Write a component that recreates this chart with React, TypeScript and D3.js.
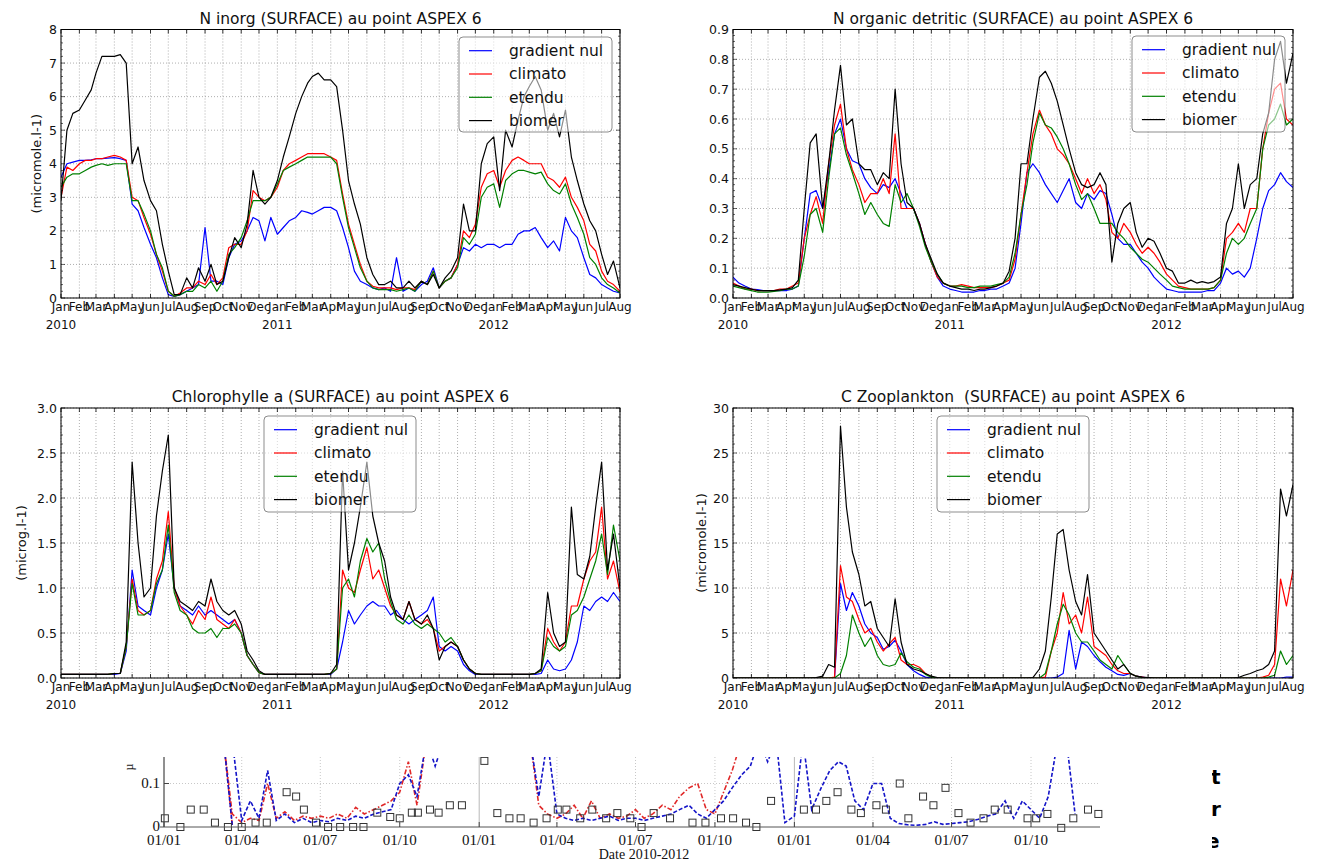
import React from 'react';
import * as d3 from 'd3';

const LEGEND_NAMES = ['gradient nul', 'climato', 'etendu', 'biomer'];
const LINE_COLORS = ['#0000ff', '#ff0000', '#008000', '#000000'];

// model output read on the 1st, 11th and 21st of each month, Jan 2010 .. 1 Aug 2012
const dekadDates = (year: number, month: number, count: number) =>
  d3.range(count).map(i => new Date(year, month + Math.floor(i / 3), 1 + 10 * (i % 3)));
const DATES = dekadDates(2010, 0, 94);

// ---- N inorg ----
const ninorgGradient = [
  3.6, 4.0, 4.05, 4.1, 4.1, 4.12, 4.15, 4.15, 4.17, 4.18, 4.15, 4.1, 2.8, 2.6, 2.1, 1.6, 1.2, 0.6, 0.1, 0.05, 0.1, 0.2, 0.3, 0.4, 2.1, 0.5, 0.5, 0.4, 1.2, 1.6, 1.7, 2.0, 2.4, 2.3, 1.7, 2.4,
  1.9, 2.1, 2.3, 2.4, 2.6, 2.55, 2.5, 2.6, 2.7, 2.7, 2.6, 2.1, 1.5, 0.8, 0.5, 0.4, 0.3, 0.25, 0.3, 0.2, 1.2, 0.2, 0.3, 0.2, 0.4, 0.5, 0.9, 0.3, 0.5, 0.6, 1.0, 1.5, 1.4, 1.6, 1.5, 1.6,
  1.6, 1.5, 1.6, 1.6, 1.9, 2.0, 2.0, 2.1, 1.8, 1.5, 1.7, 1.4, 2.4, 2.0, 1.8, 1.2, 0.7, 0.6, 0.4, 0.3, 0.2, 0.15,
];
const ninorgClimato = [
  3.0, 3.9, 3.8, 4.0, 4.1, 4.1, 4.15, 4.15, 4.2, 4.25, 4.2, 4.1, 3.0, 2.9, 2.4, 1.9, 1.3, 0.8, 0.2, 0.05, 0.15, 0.3, 0.3, 0.5, 0.4, 0.7, 0.4, 0.6, 1.5, 1.6, 1.6, 2.0, 3.2, 3.0, 2.9, 3.0,
  3.3, 3.8, 4.0, 4.1, 4.2, 4.3, 4.3, 4.3, 4.3, 4.2, 4.1, 3.1, 2.2, 1.6, 1.0, 0.5, 0.35, 0.3, 0.3, 0.3, 0.25, 0.3, 0.3, 0.25, 0.5, 0.4, 0.8, 0.3, 0.5, 0.6, 1.0, 2.0, 1.8, 2.2, 3.3, 3.7,
  3.8, 3.3, 3.8, 4.1, 4.2, 4.1, 4.0, 4.0, 4.0, 3.6, 3.5, 3.3, 3.6, 3.0, 2.7, 2.3, 1.6, 1.4, 0.8, 0.5, 0.4, 0.2,
];
const ninorgEtendu = [
  3.3, 3.6, 3.7, 3.7, 3.8, 3.9, 3.95, 4.0, 3.95, 4.0, 4.0, 4.0, 2.9, 2.9, 2.5, 2.0, 1.3, 0.9, 0.2, 0.05, 0.1, 0.2, 0.2, 0.4, 0.3, 0.5, 0.2, 0.5, 1.3, 1.5, 1.8, 2.3, 2.9, 2.9, 2.9, 3.0,
  3.4, 3.8, 3.9, 4.0, 4.1, 4.2, 4.2, 4.2, 4.2, 4.2, 4.0, 3.0, 2.1, 1.5, 0.9, 0.5, 0.3, 0.25, 0.25, 0.25, 0.2, 0.25, 0.3, 0.2, 0.5, 0.4, 0.8, 0.3, 0.5, 0.6, 0.9, 1.8, 1.6, 1.9, 3.0, 3.3,
  3.4, 2.7, 3.5, 3.7, 3.8, 3.8, 3.75, 3.7, 3.75, 3.4, 3.2, 3.1, 3.4, 2.8, 2.4, 1.9, 1.2, 1.0, 0.6, 0.4, 0.3, 0.15,
];
const ninorgBiomer = [
  2.9, 5.0, 5.5, 5.6, 5.9, 6.2, 6.7, 7.2, 7.2, 7.2, 7.25, 7.0, 4.0, 4.5, 3.5, 2.9, 2.6, 1.6, 0.8, 0.1, 0.1, 0.6, 0.3, 0.9, 0.5, 1.0, 0.4, 0.5, 1.2, 1.8, 1.5, 2.2, 3.8, 3.0, 2.8, 3.0,
  3.5, 4.2, 4.8, 5.5, 6.0, 6.4, 6.6, 6.7, 6.5, 6.5, 6.3, 5.0, 3.5, 2.8, 2.2, 1.2, 0.7, 0.4, 0.4, 0.5, 0.3, 0.3, 0.5, 0.3, 0.5, 0.4, 0.7, 0.3, 0.6, 0.8, 1.2, 2.8, 2.0, 2.0, 4.0, 4.6,
  4.8, 3.2, 5.0, 4.5, 5.3, 6.0, 6.3, 6.6, 6.2, 5.0, 5.5, 4.8, 5.6, 4.2, 3.5, 2.8, 2.3, 2.0, 1.3, 0.7, 1.1, 0.3,
];

// ---- N organic detritic ----
const norgGradient = [
  0.07, 0.05, 0.04, 0.03, 0.028, 0.025, 0.025, 0.025, 0.025, 0.025, 0.03, 0.04, 0.2, 0.35, 0.36, 0.3, 0.42, 0.55, 0.6, 0.5, 0.46, 0.45, 0.4, 0.37, 0.35, 0.38, 0.37, 0.4, 0.35, 0.3, 0.3, 0.25, 0.18, 0.12, 0.07, 0.04,
  0.03, 0.025, 0.02, 0.02, 0.02, 0.025, 0.025, 0.03, 0.03, 0.04, 0.05, 0.1, 0.25, 0.42, 0.45, 0.42, 0.38, 0.35, 0.32, 0.36, 0.4, 0.32, 0.3, 0.35, 0.33, 0.36, 0.35, 0.28, 0.2, 0.18, 0.18, 0.15, 0.12, 0.1, 0.07, 0.05,
  0.03, 0.025, 0.02, 0.02, 0.02, 0.02, 0.02, 0.025, 0.025, 0.05, 0.1, 0.08, 0.09, 0.07, 0.1, 0.2, 0.3, 0.36, 0.38, 0.42, 0.39, 0.37,
];
const norgClimato = [
  0.05, 0.04, 0.03, 0.03, 0.025, 0.025, 0.025, 0.025, 0.03, 0.03, 0.04, 0.05, 0.2, 0.28, 0.34, 0.25, 0.45, 0.58, 0.65, 0.5, 0.43, 0.38, 0.32, 0.35, 0.35, 0.4, 0.35, 0.55, 0.3, 0.3, 0.3, 0.25, 0.18, 0.12, 0.07, 0.05,
  0.04, 0.04, 0.045, 0.04, 0.035, 0.035, 0.035, 0.035, 0.04, 0.05, 0.06, 0.13, 0.28, 0.42, 0.55, 0.63, 0.58, 0.55, 0.5, 0.48, 0.45, 0.4, 0.35, 0.4, 0.35, 0.38, 0.33, 0.22, 0.2, 0.25, 0.22, 0.18, 0.15, 0.17, 0.15, 0.12,
  0.08, 0.06, 0.04, 0.035, 0.03, 0.03, 0.03, 0.03, 0.035, 0.06, 0.2, 0.22, 0.25, 0.22, 0.3, 0.3, 0.5, 0.62, 0.7, 0.72, 0.6, 0.58,
];
const norgEtendu = [
  0.04, 0.035, 0.03, 0.025, 0.02, 0.02, 0.02, 0.022, 0.025, 0.03, 0.03, 0.04, 0.14, 0.28, 0.3, 0.22, 0.4, 0.55, 0.57, 0.48, 0.42, 0.35, 0.28, 0.32, 0.28, 0.25, 0.24, 0.38, 0.32, 0.35, 0.3, 0.24, 0.17, 0.12, 0.08, 0.05,
  0.04, 0.04, 0.04, 0.035, 0.035, 0.04, 0.04, 0.04, 0.045, 0.05, 0.07, 0.15, 0.28, 0.38, 0.52, 0.62, 0.58, 0.57, 0.54, 0.5, 0.45, 0.38, 0.33, 0.35, 0.3, 0.25, 0.25, 0.25, 0.22, 0.2, 0.17, 0.15, 0.13, 0.12, 0.1, 0.08,
  0.06, 0.04, 0.035, 0.03, 0.03, 0.03, 0.03, 0.03, 0.035, 0.06, 0.15, 0.2, 0.18, 0.2, 0.25, 0.3, 0.5, 0.58, 0.6, 0.65, 0.58, 0.6,
];
const norgBiomer = [
  0.045, 0.04, 0.035, 0.03, 0.025, 0.025, 0.025, 0.025, 0.027, 0.03, 0.035, 0.06, 0.3, 0.52, 0.55, 0.3, 0.45, 0.63, 0.78, 0.58, 0.6, 0.45, 0.43, 0.43, 0.38, 0.42, 0.4, 0.7, 0.45, 0.32, 0.3, 0.25, 0.18, 0.13, 0.08, 0.05,
  0.04, 0.035, 0.03, 0.03, 0.025, 0.03, 0.03, 0.035, 0.04, 0.05, 0.09, 0.2, 0.45, 0.45, 0.6, 0.74, 0.76, 0.72, 0.66, 0.58, 0.5, 0.42, 0.38, 0.37, 0.38, 0.42, 0.38, 0.12, 0.25, 0.3, 0.32, 0.22, 0.17, 0.2, 0.19, 0.15,
  0.1, 0.09, 0.05, 0.05, 0.06, 0.05, 0.055, 0.05, 0.055, 0.07, 0.25, 0.3, 0.45, 0.3, 0.38, 0.4, 0.55, 0.62, 0.8, 0.86, 0.72, 0.82,
];

// ---- Chlorophylle a ----
const chlGradient = [
  0.04, 0.04, 0.04, 0.04, 0.04, 0.04, 0.04, 0.04, 0.04, 0.04, 0.05, 0.3, 1.2, 0.8, 0.75, 0.7, 1.0, 1.2, 1.6, 1.0, 0.8, 0.75, 0.7, 0.8, 0.7, 0.75, 0.7, 0.65, 0.6, 0.65, 0.5, 0.25, 0.15, 0.06, 0.04, 0.04,
  0.04, 0.04, 0.04, 0.04, 0.04, 0.04, 0.04, 0.04, 0.04, 0.04, 0.1, 0.4, 0.75, 0.6, 0.7, 0.8, 0.85, 0.8, 0.8, 0.7, 0.75, 0.65, 0.6, 0.65, 0.7, 0.75, 0.9, 0.35, 0.3, 0.35, 0.3, 0.15, 0.08, 0.04, 0.04, 0.04,
  0.04, 0.04, 0.04, 0.04, 0.04, 0.04, 0.04, 0.04, 0.05, 0.2, 0.1, 0.08, 0.1, 0.2, 0.4, 0.8, 0.75, 0.85, 0.9, 0.85, 0.95, 0.85,
];
const chlClimato = [
  0.04, 0.04, 0.04, 0.04, 0.04, 0.04, 0.04, 0.04, 0.04, 0.05, 0.05, 0.35, 1.1, 0.75, 0.7, 0.75, 1.1, 1.3, 1.85, 1.0, 0.8, 0.7, 0.6, 0.75, 0.65, 0.9, 0.65, 0.6, 0.55, 0.65, 0.5, 0.25, 0.15, 0.06, 0.04, 0.04,
  0.04, 0.04, 0.04, 0.04, 0.04, 0.04, 0.04, 0.04, 0.04, 0.05, 0.1, 1.2, 1.0, 0.95, 1.2, 1.45, 1.1, 1.2, 1.0, 0.8, 0.7, 0.65, 0.85, 0.65, 0.6, 0.65, 0.55, 0.3, 0.35, 0.4, 0.35, 0.2, 0.1, 0.05, 0.04, 0.04,
  0.04, 0.04, 0.04, 0.04, 0.04, 0.04, 0.04, 0.05, 0.08, 0.55, 0.4, 0.3, 0.4, 0.8, 0.8, 1.1, 1.3, 1.4, 1.9, 1.1, 1.3, 0.95,
];
const chlEtendu = [
  0.04, 0.04, 0.04, 0.04, 0.04, 0.04, 0.04, 0.04, 0.04, 0.05, 0.05, 0.35, 1.05, 0.7, 0.7, 0.75, 1.05, 1.2, 1.7, 0.95, 0.75, 0.7, 0.55, 0.5, 0.5, 0.55, 0.45, 0.55, 0.55, 0.6, 0.5, 0.25, 0.15, 0.06, 0.04, 0.04,
  0.04, 0.04, 0.04, 0.04, 0.04, 0.04, 0.04, 0.04, 0.04, 0.05, 0.1, 1.0, 1.1, 0.9, 1.3, 1.55, 1.4, 1.5, 1.1, 0.85, 0.65, 0.6, 0.7, 0.6, 0.55, 0.6, 0.55, 0.5, 0.4, 0.45, 0.35, 0.2, 0.1, 0.05, 0.04, 0.04,
  0.04, 0.04, 0.04, 0.04, 0.04, 0.04, 0.04, 0.05, 0.08, 0.45, 0.35, 0.3, 0.35, 0.7, 0.75, 0.9, 1.1, 1.3, 1.6, 1.15, 1.7, 1.3,
];
const chlBiomer = [
  0.04, 0.04, 0.04, 0.04, 0.04, 0.04, 0.04, 0.04, 0.04, 0.05, 0.05, 0.4, 2.4, 1.5, 0.9, 1.0, 1.8, 2.3, 2.7, 1.0, 0.85, 0.8, 0.75, 0.85, 0.8, 1.1, 0.85, 0.75, 0.7, 0.75, 0.6, 0.3, 0.2, 0.08, 0.04, 0.04,
  0.04, 0.04, 0.04, 0.04, 0.04, 0.04, 0.04, 0.04, 0.04, 0.05, 0.15, 2.3, 1.2, 1.5, 1.9, 2.4, 1.8, 1.5, 1.3, 0.9, 0.7, 0.65, 0.85, 0.65, 0.6, 0.7, 0.55, 0.2, 0.35, 0.4, 0.35, 0.2, 0.1, 0.05, 0.04, 0.04,
  0.04, 0.04, 0.04, 0.04, 0.04, 0.04, 0.04, 0.05, 0.1, 0.95, 0.5, 0.35, 0.4, 1.9, 1.15, 1.1, 1.35, 1.9, 2.4, 1.2, 1.6, 1.0,
];

// ---- C Zooplankton ----
const zooGradient = [
  0, 0, 0, 0, 0, 0, 0, 0, 0, 0, 0, 0, 0, 0, 0, 0, 0, 0, 10.5, 7.5, 9.5, 8, 6, 5, 4.5, 3.2, 3.5, 4.2, 3, 1.5, 0.8, 0.4, 0.1, 0.02, 0, 0,
  0, 0, 0, 0, 0, 0, 0, 0, 0, 0, 0, 0, 0, 0, 0, 0, 0, 0, 0.1, 0.5, 5.3, 1.0, 4, 3.5, 2.5, 1.8, 1.2, 0.8, 0.4, 0.3, 0.5, 0.2, 0.1, 0, 0, 0,
  0, 0, 0, 0, 0, 0, 0, 0, 0, 0, 0, 0, 0, 0, 0, 0, 0, 0, 0, 0, 0.1, 0.1,
];
const zooClimato = [
  0, 0, 0, 0, 0, 0, 0, 0, 0, 0, 0, 0, 0, 0, 0, 0, 0, 0.1, 12.5, 9, 8.5, 6.5, 5, 5.5, 4, 3, 3.8, 4.5, 2, 1.5, 1.5, 1.2, 0.5, 0.1, 0, 0,
  0, 0, 0, 0, 0, 0, 0, 0, 0, 0, 0, 0, 0, 0, 0, 0, 0.1, 3, 5, 9.5, 6, 7, 5, 9, 3.5, 3, 2.5, 1.5, 0.8, 0.5, 0.5, 0.2, 0.1, 0, 0, 0,
  0, 0, 0, 0, 0, 0, 0, 0, 0, 0, 0, 0, 0, 0, 0, 0, 0.1, 0.3, 1.5, 11, 8, 12,
];
const zooEtendu = [
  0, 0, 0, 0, 0, 0, 0, 0, 0, 0, 0, 0, 0, 0, 0, 0, 0, 0, 0.5, 2.5, 7, 5, 3.5, 4.5, 2.5, 1.5, 1.3, 1.5, 2.8, 1.8, 1.2, 1.0, 0.4, 0.1, 0, 0,
  0, 0, 0, 0, 0, 0, 0, 0, 0, 0, 0, 0, 0, 0, 0, 0, 0.5, 3, 6, 8.2, 7, 5, 4, 4, 3, 2, 1.5, 1, 2.5, 1.5, 0.5, 0.2, 0.05, 0, 0, 0,
  0, 0, 0, 0, 0, 0, 0, 0, 0, 0, 0, 0, 0, 0, 0, 0, 0, 0.1, 0.3, 3, 1.5, 2.5,
];
const zooBiomer = [
  0, 0, 0, 0, 0, 0, 0, 0, 0, 0, 0, 0, 0, 0, 0.05, 0.2, 1.5, 1.2, 28, 19, 14, 11.5, 8, 8.5, 5.5, 4.5, 3.5, 8.8, 4, 1.5, 1.0, 0.8, 0.5, 0.2, 0.05, 0,
  0, 0, 0, 0, 0, 0, 0, 0, 0, 0, 0, 0, 0, 0, 0.05, 1.0, 3, 9, 16, 16.5, 12, 8.5, 7, 11.5, 5, 4, 3, 2, 1, 1.5, 0.5, 0.2, 0.1, 0.05, 0, 0,
  0, 0, 0, 0, 0, 0, 0, 0, 0, 0, 0, 0, 0.05, 0.3, 0.5, 0.8, 1.0, 1.5, 3, 21, 18, 21.5,
];

// ---- cropped strip at the bottom (other figure) ----
const STRIP_BLUE_DATES = dekadDates(2010, 2, 99).map((d, i) => (i === 0 ? new Date(2010, 2, 21) : d));
const stripBlue = [
  0.005,
  0.2, 0.2, 0.015, 0.06, 0.02, 0.13, 0.015, 0.03, 0.01, 0.02, 0.01, 0.015, 0.012, 0.02, 0.015, 0.025, 0.02, 0.03, 0.035, 0.04, 0.1, 0.12, 0.07, 0.2, 0.14, 0.2, 0.2,
  0.2, 0.2, 0.2, 0.2, 0.2, 0.2, 0.2, 0.2, 0.2, 0.07, 0.2, 0.03, 0.02, 0.015, 0.02, 0.015, 0.02, 0.025, 0.015, 0.02, 0.02, 0.015, 0.02, 0.025, 0.03, 0.04, 0.05, 0.03, 0.02, 0.04, 0.06, 0.09, 0.12, 0.14, 0.2, 0.15,
  0.2, 0.01, 0.025, 0.2, 0.04, 0.09, 0.13, 0.15, 0.14, 0.06, 0.04, 0.1, 0.1, 0.02, 0.008, 0.005, 0.004, 0.006, 0.012, 0.006, 0.008, 0.01, 0.012, 0.018, 0.025, 0.03, 0.06, 0.02, 0.06, 0.04, 0.02, 0.07, 0.2, 0.2, 0.03,
];
const stripRed = [
  0.005,
  0.2, 0.03, 0.01, 0.02, 0.015, 0.1, 0.02, 0.035, 0.015, 0.025, 0.02, 0.025, 0.02, 0.03, 0.02, 0.045, 0.03, 0.04, 0.05, 0.06, 0.08, 0.15, 0.05, 0.2, 0.2, 0.2, 0.2,
  0.2, 0.2, 0.2, 0.2, 0.2, 0.2, 0.2, 0.2, 0.2, 0.05, 0.03, 0.02, 0.03, 0.05, 0.02, 0.06, 0.02, 0.03, 0.02, 0.025, 0.04, 0.02, 0.03, 0.05, 0.04, 0.07, 0.09, 0.1, 0.04, 0.03, 0.08, 0.13, 0.2,
  0.2,
];
const stripObsDates = [
  '2010-01-02', '2010-01-20', '2010-02-01', '2010-02-16', '2010-03-01', '2010-03-16', '2010-04-01', '2010-04-17', '2010-04-30', '2010-05-23',
  '2010-06-03', '2010-06-12', '2010-06-26', '2010-07-10', '2010-07-24', '2010-08-08', '2010-08-20', '2010-09-05', '2010-09-20', '2010-10-01',
  '2010-10-15', '2010-10-22', '2010-11-05', '2010-11-15', '2010-11-28', '2010-12-12', '2011-01-07', '2011-01-22', '2011-02-05', '2011-02-18',
  '2011-03-05', '2011-03-20', '2011-04-02', '2011-04-12', '2011-04-28', '2011-05-12', '2011-05-28', '2011-06-10', '2011-06-25', '2011-07-08',
  '2011-07-22', '2011-08-10', '2011-09-05', '2011-09-20', '2011-10-08', '2011-10-22', '2011-11-06', '2011-11-18', '2011-12-05', '2012-01-12',
  '2012-01-26', '2012-02-07', '2012-02-20', '2012-03-07', '2012-03-18', '2012-04-05', '2012-04-16', '2012-05-02', '2012-05-12', '2012-05-29',
  '2012-06-10', '2012-06-24', '2012-07-09', '2012-07-23', '2012-08-07', '2012-08-20', '2012-09-04', '2012-09-27', '2012-10-07', '2012-10-20',
  '2012-11-05', '2012-11-19', '2012-12-06', '2012-12-18',
];
const stripObsValues = [
  0.02, 0, 0.04, 0.04, 0.01, 0, 0, 0.01, 0.01, 0.08,
  0.07, 0.04, 0.01, 0, 0, 0, 0, 0.033, 0.023, 0.02,
  0.033, 0.033, 0.04, 0.033, 0.05, 0.05, 0.152, 0.032, 0.02, 0.02,
  0.01, 0.02, 0.04, 0.04, 0.02, 0.04, 0.02, 0.032, 0.02, 0,
  0.032, 0.02, 0.01, 0.01, 0.02, 0.02, 0.01, 0, 0.06, 0.04,
  0.04, 0.06, 0.08, 0.04, 0.032, 0.05, 0.04, 0.1, 0.02, 0.07,
  0.05, 0.09, 0.032, 0.01, 0.02, 0.04, 0.04, 0.02, 0.02, 0.03,
  -0.002, 0.02, 0.04, 0.03,
];
const STRIP_TICKS = ['01/01', '01/04', '01/07', '01/10'];

const FONT = 'DejaVu Sans, sans-serif';
const SERIF = 'Liberation Serif, Times New Roman, serif';

type Box = { x: number; y: number; w: number; h: number };
type PanelSpec = {
  id: string;
  title: string;
  left: number;
  top: number;
  width: number;
  height: number;
  yMax: number;
  yStep: number;
  yDigits: number;
  yLabel?: string;
  yLabelX?: number;
  series: number[][];
  legend: Box;
};

const PANELS: PanelSpec[] = [
  {
    id: 'p1', title: 'N inorg (SURFACE) au point ASPEX 6', left: 61, top: 29.5, width: 559, height: 268.5,
    yMax: 8, yStep: 1, yDigits: 0, yLabel: '(micromole.l-1)', yLabelX: 36,
    series: [ninorgGradient, ninorgClimato, ninorgEtendu, ninorgBiomer], legend: { x: 459, y: 37, w: 153, h: 95 },
  },
  {
    id: 'p2', title: 'N organic detritic (SURFACE) au point ASPEX 6', left: 733, top: 29.5, width: 560, height: 268.5,
    yMax: 0.9, yStep: 0.1, yDigits: 1,
    series: [norgGradient, norgClimato, norgEtendu, norgBiomer], legend: { x: 1132, y: 36, w: 153, h: 96 },
  },
  {
    id: 'p3', title: 'Chlorophylle a (SURFACE) au point ASPEX 6', left: 61, top: 408, width: 559, height: 270,
    yMax: 3, yStep: 0.5, yDigits: 1, yLabel: '(microg.l-1)', yLabelX: 21,
    series: [chlGradient, chlClimato, chlEtendu, chlBiomer], legend: { x: 264, y: 416, w: 152, h: 96 },
  },
  {
    id: 'p4', title: 'C Zooplankton  (SURFACE) au point ASPEX 6', left: 733, top: 408, width: 560, height: 270,
    yMax: 30, yStep: 5, yDigits: 0, yLabel: '(micromole.l-1)', yLabelX: 701,
    series: [zooGradient, zooClimato, zooEtendu, zooBiomer], legend: { x: 937, y: 416, w: 152, h: 96 },
  },
];

const monthFmt = d3.timeFormat('%b');

function Panel({ p }: { p: PanelSpec }) {
  const right = p.left + p.width;
  const bottom = p.top + p.height;
  const x = d3.scaleTime().domain([new Date(2010, 0, 1), new Date(2012, 7, 1)]).range([p.left, right]);
  const y = d3.scaleLinear().domain([0, p.yMax]).range([bottom, p.top]);
  const months = d3.timeMonth.range(new Date(2010, 0, 1), new Date(2012, 7, 2));
  const nMajor = Math.round(p.yMax / p.yStep);
  const yTicks = d3.range(nMajor + 1).map(i => i * p.yStep);
  const yMinor = d3.range(nMajor * 5 + 1).map(i => (i * p.yStep) / 5);
  const line = d3.line<number>().x((_, i) => x(DATES[i])).y(v => y(v));

  return (
    <g fontFamily={FONT}>
      <defs>
        <clipPath id={`clip-${p.id}`}>
          <rect x={p.left} y={p.top} width={p.width} height={p.height} />
        </clipPath>
      </defs>
      <rect x={p.left} y={p.top} width={p.width} height={p.height} fill="#fff" />
      {/* grid */}
      {months.map((m, i) => (
        <line key={`gx${i}`} x1={x(m)} x2={x(m)} y1={p.top} y2={bottom} stroke="#9a9a9a" strokeWidth={0.8} strokeDasharray="1 2" />
      ))}
      {yTicks.map((t, i) => (
        <line key={`gy${i}`} x1={p.left} x2={right} y1={y(t)} y2={y(t)} stroke="#9a9a9a" strokeWidth={0.8} strokeDasharray="1 2" />
      ))}
      {/* series */}
      <g clipPath={`url(#clip-${p.id})`}>
        {p.series.map((s, k) => (
          <path key={k} d={line(s) || ''} fill="none" stroke={LINE_COLORS[k]} strokeWidth={1.2} strokeLinejoin="round" />
        ))}
      </g>
      {/* ticks, inward on all four sides */}
      {months.map((m, i) => (
        <g key={`tx${i}`} stroke="#000" strokeWidth={0.8}>
          <line x1={x(m)} x2={x(m)} y1={bottom} y2={bottom - 4} />
          <line x1={x(m)} x2={x(m)} y1={p.top} y2={p.top + 4} />
        </g>
      ))}
      {yMinor.map((t, i) => (
        <g key={`tm${i}`} stroke="#000" strokeWidth={0.6}>
          <line x1={p.left} x2={p.left + (i % 5 === 0 ? 4 : 2)} y1={y(t)} y2={y(t)} />
          <line x1={right} x2={right - (i % 5 === 0 ? 4 : 2)} y1={y(t)} y2={y(t)} />
        </g>
      ))}
      <rect x={p.left} y={p.top} width={p.width} height={p.height} fill="none" stroke="#000" strokeWidth={1} />
      {/* tick labels */}
      {months.map((m, i) => (
        <g key={`lx${i}`} fontSize={12} textAnchor="middle" fill="#111">
          <text x={x(m)} y={bottom + 13}>{monthFmt(m)}</text>
          {m.getMonth() === 0 && <text x={x(m)} y={bottom + 31}>{m.getFullYear()}</text>}
        </g>
      ))}
      {yTicks.map((t, i) => (
        <text key={`ly${i}`} x={p.left - 4} y={y(t) + 4.5} fontSize={12.5} textAnchor="end" fill="#111">
          {t.toFixed(p.yDigits)}
        </text>
      ))}
      {p.yLabel && (
        <text
          transform={`translate(${p.yLabelX},${(p.top + bottom) / 2}) rotate(-90)`}
          fontSize={13} textAnchor="middle" dy="0.35em" fill="#111"
        >
          {p.yLabel}
        </text>
      )}
      <text x={(p.left + right) / 2} y={p.top - 6} fontSize={15.5} textAnchor="middle" fill="#111" style={{ whiteSpace: 'pre' }}>
        {p.title}
      </text>
      {/* legend */}
      <rect x={p.legend.x} y={p.legend.y} width={p.legend.w} height={p.legend.h} rx={4}
        fill="#fff" fillOpacity={0.55} stroke="#000" strokeOpacity={0.45} strokeWidth={1} />
      {LEGEND_NAMES.map((name, k) => {
        const ly = p.legend.y + 13.7 + k * 23.3;
        return (
          <g key={name}>
            <line x1={p.legend.x + 10} x2={p.legend.x + 33} y1={ly} y2={ly} stroke={LINE_COLORS[k]} strokeWidth={1.2} />
            <text x={p.legend.x + 50} y={ly} dy="0.35em" fontSize={15.5} fill="#111">{name}</text>
          </g>
        );
      })}
    </g>
  );
}

function Strip() {
  const x = d3.scaleTime().domain([new Date(2010, 0, 1), new Date(2012, 9, 1)]).range([164, 1031]);
  const y = d3.scaleLinear().domain([0, 0.1]).range([827, 783.5]);
  const xEnd = 1100;
  const top = 757;
  const quarters = d3.timeMonth.every(3)!.range(new Date(2010, 0, 1), new Date(2012, 9, 2));
  const blueLine = d3.line<number>().x((_, i) => x(STRIP_BLUE_DATES[i])).y(v => y(v));
  const redLine = d3.line<number>().x((_, i) => x(STRIP_BLUE_DATES[i])).y(v => y(v));
  return (
    <g>
      <defs>
        <clipPath id="clip-strip">
          <rect x={164} y={top} width={xEnd - 164} height={827 - top} />
        </clipPath>
        <clipPath id="clip-top">
          <rect x={0} y={top} width={1319} height={861 - top} />
        </clipPath>
      </defs>
      <g clipPath="url(#clip-top)">
        {quarters.map((q, i) => (
          <line key={`sg${i}`} x1={x(q)} x2={x(q)} y1={top} y2={827}
            stroke={q.getMonth() === 0 ? '#b8b8b8' : '#c8c8c8'} strokeWidth={1}
            strokeDasharray={q.getMonth() === 0 ? undefined : '1 2'} />
        ))}
        <line x1={164} x2={xEnd} y1={y(0.1)} y2={y(0.1)} stroke="#c8c8c8" strokeDasharray="1 2" />
        <g clipPath="url(#clip-strip)">
          <path d={redLine(stripRed) || ''} fill="none" stroke="#e02828" strokeWidth={1.6} strokeDasharray="5 2 1.5 2" />
          <path d={blueLine(stripBlue) || ''} fill="none" stroke="#1414c8" strokeWidth={1.6} strokeDasharray="4 2" />
        </g>
        {stripObsDates.map((d, i) => (
          <rect key={`sq${i}`} x={x(new Date(d + 'T00:00')) - 3.5} y={y(stripObsValues[i]) - 3.5} width={7} height={7}
            fill="none" stroke="#333" strokeWidth={1} />
        ))}
        <line x1={164} x2={164} y1={top} y2={827} stroke="#444" strokeWidth={1} />
        <line x1={160} x2={xEnd} y1={827} y2={827} stroke="#555" strokeWidth={1} />
        {quarters.map((q, i) => (
          <line key={`st${i}`} x1={x(q)} x2={x(q)} y1={827} y2={822} stroke="#444" />
        ))}
        <line x1={164} x2={169} y1={y(0.1)} y2={y(0.1)} stroke="#444" />
        <text transform="translate(133,767) rotate(-90)" fontFamily={SERIF} fontSize={12} textAnchor="middle" fill="#222">µ</text>
      </g>
      <g fontFamily={SERIF} fill="#111">
        <text x={160} y={788} fontSize={15} textAnchor="end">0.1</text>
        <text x={160} y={831} fontSize={15} textAnchor="end">0</text>
        {quarters.map((q, i) => (
          <text key={`sl${i}`} x={x(q)} y={845} fontSize={15} textAnchor="middle">{STRIP_TICKS[Math.floor(q.getMonth() / 3)]}</text>
        ))}
        <text x={644} y={859} fontSize={14} textAnchor="middle">Date 2010-2012</text>
      </g>
    </g>
  );
}

function SideLetters() {
  const letters = ['t', 'r', 'e'];
  const xs = [1211, 1211, 1206];
  const ys = [784, 816, 848];
  return (
    <g>
      <defs>
        <clipPath id="clip-side">
          <rect x={1212} y={755} width={40} height={106} />
        </clipPath>
      </defs>
      <g clipPath="url(#clip-side)" fontFamily={FONT} fontWeight="bold" fontSize={20} fill="#000">
        {letters.map((l, i) => (
          <text key={l} x={xs[i]} y={ys[i]}>{l}</text>
        ))}
      </g>
    </g>
  );
}

export default function App() {
  return (
    <svg width={1319} height={861} style={{ position: 'absolute', left: 0, top: 0, background: '#fff' }}>
      <rect width={1319} height={861} fill="#fff" />
      {PANELS.map(p => (
        <Panel key={p.id} p={p} />
      ))}
      <Strip />
      <SideLetters />
    </svg>
  );
}
